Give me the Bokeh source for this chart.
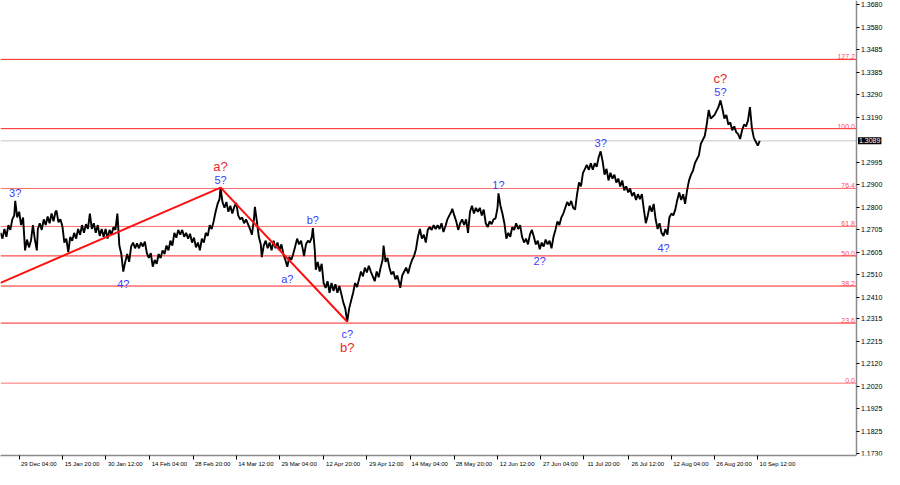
from bokeh.plotting import figure
from bokeh.models import Range1d, FixedTicker, NumeralTickFormatter, ColumnDataSource
from bokeh.embed import file_html
from bokeh.resources import INLINE
from bokeh.core.properties import value

# ---- price path (chart column position, price) ----
bar_pos = [
    0, 2, 4, 6, 8, 10, 12, 14, 15, 17, 19, 21, 23, 25, 27, 29, 31, 33, 35, 37, 38, 40, 42, 44, 46, 48, 50,
    52, 54, 56, 57, 59, 61, 63, 65, 67, 69, 71, 73, 75, 77, 79, 81, 83, 85, 87, 89, 91, 93, 95, 97, 99,
    101, 103, 105, 107, 109, 111, 113, 115, 117, 119, 121, 123, 125, 127, 129, 131, 133, 135, 137, 139,
    141, 143, 145, 147, 149, 151, 153, 155, 157, 159, 161, 163, 165, 167, 169, 171, 173, 175, 177, 179,
    181, 183, 185, 187, 189, 191, 193, 195, 197, 199,
    201, 203, 205, 207, 209, 211, 213, 215, 217, 219, 221, 223, 224, 226, 228, 230, 232, 234, 236, 238,
    240, 242, 244, 246, 248, 250, 252, 254, 256, 258, 259, 261, 263, 265, 266, 268, 270, 272, 274, 276,
    278, 280, 282, 284, 286, 288, 290, 292, 294, 296, 298, 300, 302, 304, 306, 308, 309, 311, 313, 315,
    317, 318, 320, 321, 323, 325, 327, 329, 331, 333, 335, 337, 339, 341, 343, 345, 347, 349, 351, 353,
    355, 357, 359, 361, 363, 365, 367, 369, 371, 373, 375, 377, 379, 381, 383, 385, 387, 389, 390, 392,
    394, 396, 398,
    400, 402, 404, 406, 407, 409, 411, 413, 415, 417, 419, 421, 423, 425, 427, 429, 431, 433, 435, 437,
    439, 441, 443, 445, 447, 449, 451, 453, 455, 457, 459, 460, 462, 464, 466, 468, 470, 472, 474, 476,
    478, 480, 482, 484, 486, 488, 490, 492, 494, 496, 498, 500, 502, 504, 506, 507, 509, 511, 513, 515,
    517, 519, 521, 523, 525, 527, 529, 531, 533, 535, 537, 539, 541, 543, 545, 547, 549, 551, 553, 555,
    557, 559, 561, 563, 565, 567, 569, 571, 573, 575, 577, 579, 581, 583, 585, 587, 589, 591, 593, 595,
    597, 599,
    601, 603, 605, 607, 609, 611, 613, 615, 617, 619, 621, 623, 625, 627, 629, 631, 633, 635, 637, 639,
    641, 643, 645, 647, 649, 651, 653, 655, 657, 659, 661, 663, 665, 667, 669, 671, 673, 675, 677, 679,
    681, 683, 685, 687, 689, 691, 693, 695, 697, 699, 701, 703, 705, 707, 709, 711, 713, 715, 717, 719,
    721, 723, 725, 727, 729, 731, 733, 735, 737, 739, 741, 743, 745, 747, 749, 751, 753, 755, 757, 759,
    761, 763, 765, 767, 769, 771, 773,
]
price = [
    1.2689, 1.2664, 1.2706, 1.2672, 1.2723, 1.2702, 1.2748, 1.2765, 1.2828, 1.2756, 1.2781, 1.2723, 1.2756,
    1.2613, 1.2660, 1.2626, 1.2655, 1.2723, 1.2660, 1.2613, 1.2706, 1.2731, 1.2702, 1.2748, 1.2723, 1.2760,
    1.2731, 1.2773, 1.2739, 1.2781, 1.2786, 1.2735, 1.2748, 1.2718, 1.2647, 1.2664, 1.2605, 1.2672, 1.2655,
    1.2689, 1.2664, 1.2706, 1.2681, 1.2723, 1.2689, 1.2727, 1.2706, 1.2773, 1.2706, 1.2731, 1.2689, 1.2723,
    1.2676, 1.2706, 1.2672, 1.2706, 1.2664, 1.2702, 1.2681, 1.2714, 1.2702, 1.2773, 1.2634, 1.2597, 1.2521,
    1.2563, 1.2597, 1.2563, 1.2630, 1.2647, 1.2622, 1.2643, 1.2622, 1.2647, 1.2630, 1.2651, 1.2601, 1.2580,
    1.2601, 1.2542, 1.2571, 1.2555, 1.2597, 1.2580, 1.2613, 1.2597, 1.2634, 1.2613, 1.2655, 1.2634, 1.2689,
    1.2668, 1.2702, 1.2681, 1.2702, 1.2672, 1.2689, 1.2664, 1.2685, 1.2647, 1.2668, 1.2626,
    1.2647, 1.2613, 1.2664, 1.2647, 1.2689, 1.2676, 1.2723, 1.2706, 1.2739, 1.2781, 1.2815, 1.2836, 1.2886,
    1.2823, 1.2798, 1.2823, 1.2781, 1.2807, 1.2773, 1.2802, 1.2819, 1.2765, 1.2748, 1.2756, 1.2731, 1.2748,
    1.2727, 1.2706, 1.2681, 1.2748, 1.2802, 1.2739, 1.2672, 1.2639, 1.2584, 1.2634, 1.2655, 1.2622, 1.2647,
    1.2613, 1.2655, 1.2622, 1.2647, 1.2613, 1.2639, 1.2597, 1.2571, 1.2542, 1.2584, 1.2571, 1.2597, 1.2630,
    1.2664, 1.2639, 1.2655, 1.2613, 1.2588, 1.2639, 1.2655, 1.2647, 1.2672, 1.2710, 1.2613, 1.2529, 1.2563,
    1.2521, 1.2555, 1.2471, 1.2450, 1.2479, 1.2429, 1.2471, 1.2437, 1.2466, 1.2429, 1.2458, 1.2424, 1.2387,
    1.2361, 1.2303, 1.2361, 1.2395, 1.2429, 1.2471, 1.2454, 1.2487, 1.2521, 1.2500, 1.2538, 1.2517, 1.2546,
    1.2521, 1.2500, 1.2479, 1.2521, 1.2496, 1.2538, 1.2571, 1.2634, 1.2563, 1.2580, 1.2538, 1.2508,
    1.2521, 1.2487, 1.2504, 1.2471, 1.2450, 1.2504, 1.2521, 1.2538, 1.2513, 1.2546, 1.2571, 1.2588, 1.2618,
    1.2672, 1.2706, 1.2664, 1.2681, 1.2647, 1.2702, 1.2714, 1.2702, 1.2723, 1.2706, 1.2723, 1.2706, 1.2731,
    1.2693, 1.2718, 1.2748, 1.2765, 1.2781, 1.2794, 1.2765, 1.2739, 1.2702, 1.2731, 1.2748, 1.2723, 1.2748,
    1.2689, 1.2781, 1.2807, 1.2773, 1.2798, 1.2781, 1.2798, 1.2765, 1.2790, 1.2731, 1.2714, 1.2739, 1.2727,
    1.2748, 1.2752, 1.2798, 1.2861, 1.2807, 1.2773, 1.2731, 1.2664, 1.2689, 1.2672, 1.2714, 1.2702, 1.2731,
    1.2706, 1.2723, 1.2672, 1.2647, 1.2664, 1.2639, 1.2681, 1.2702, 1.2672, 1.2639, 1.2655, 1.2618, 1.2647,
    1.2630, 1.2660, 1.2639, 1.2655, 1.2622, 1.2672, 1.2702, 1.2739, 1.2723, 1.2756, 1.2773, 1.2798, 1.2823,
    1.2807, 1.2828, 1.2798, 1.2790, 1.2857, 1.2908, 1.2891, 1.2950, 1.2967, 1.2984, 1.2963,
    1.2992, 1.2963, 1.2992, 1.2976, 1.3018, 1.3043, 1.3001, 1.2942, 1.2967, 1.2917, 1.2950, 1.2925, 1.2942,
    1.2908, 1.2925, 1.2891, 1.2917, 1.2874, 1.2891, 1.2865, 1.2882, 1.2849, 1.2865, 1.2832, 1.2857, 1.2836,
    1.2857, 1.2790, 1.2731, 1.2765, 1.2807, 1.2781, 1.2815, 1.2748, 1.2706, 1.2731, 1.2689, 1.2676, 1.2706,
    1.2681, 1.2756, 1.2773, 1.2765, 1.2790, 1.2832, 1.2865, 1.2832, 1.2857, 1.2815, 1.2874, 1.2917, 1.2942,
    1.2959, 1.2992, 1.3009, 1.3026, 1.3076, 1.3093, 1.3110, 1.3160, 1.3223, 1.3186, 1.3194, 1.3202, 1.3219,
    1.3236, 1.3265, 1.3228, 1.3186, 1.3202, 1.3160, 1.3169, 1.3135, 1.3152, 1.3127, 1.3118, 1.3097, 1.3135,
    1.3160, 1.3152, 1.3177, 1.3236, 1.3144, 1.3102, 1.3085, 1.3068, 1.3089,
]

# ---- axes ----
y_ticks = [1.1730, 1.1825, 1.1925, 1.2020, 1.2120, 1.2215, 1.2315, 1.2410, 1.2510, 1.2605,
           1.2705, 1.2800, 1.2900, 1.2995, 1.3190, 1.3290, 1.3385, 1.3485, 1.3580, 1.3680]
x_tick_pos = [19, 63, 107, 152, 196, 240, 284, 329, 373, 417, 462, 506, 550, 594, 639, 683, 727, 771]
x_tick_labels = ["29 Dec 04:00", "15 Jan 20:00", "30 Jan 12:00", "14 Feb 04:00", "28 Feb 20:00",
                 "14 Mar 12:00", "29 Mar 04:00", "12 Apr 20:00", "29 Apr 12:00", "14 May 04:00",
                 "28 May 20:00", "12 Jun 12:00", "27 Jun 04:00", "11 Jul 20:00", "26 Jul 12:00",
                 "12 Aug 04:00", "26 Aug 20:00", "10 Sep 12:00"]

# ---- Fibonacci levels ----
fib_levels = ["0.0", "23.6", "38.2", "50.0", "61.8", "76.4", "100.0", "127.2"]
fib_prices = [1.2036, 1.2297, 1.2458, 1.2589, 1.2717, 1.2882, 1.3142, 1.3443]
current_price = 1.3089

# ---- wave count ----
wave_line_pos = [0, 224, 353]
wave_line_price = [1.2472, 1.2886, 1.2303]

blue_text = ["3?", "4?", "5?", "a?", "b?", "c?", "1?", "2?", "3?", "4?", "5?"]
blue_pos = [15, 125, 224, 292, 318, 353, 507, 549, 611, 675, 733]
blue_price = [1.2828, 1.2521, 1.2886, 1.2542, 1.2710, 1.2303, 1.2861, 1.2618, 1.3043, 1.2676, 1.3265]
blue_side = ["up", "down", "up", "down", "up", "down", "up", "down", "up", "down", "up"]

red_text = ["a?", "b?", "c?"]
red_pos = [224, 353, 733]
red_price = [1.2886, 1.2303, 1.3265]
red_side = ["up", "down", "up"]

FONT = "Liberation Sans"
AXIS_X = 872          # chart column where the price scale sits
X_END = 900           # right edge of the drawing area (room for the price scale)

p = figure(width=884, height=469, output_backend="svg", toolbar_location=None,
           x_range=Range1d(0, X_END), y_range=Range1d(1.17216, 1.36989),
           y_axis_location="right", min_border=0, outline_line_color=None,
           background_fill_color="white", border_fill_color="white")
p.grid.visible = False

# Fibonacci lines (stop at the price scale)
fib_colors = ["#FF7070", "#FF2020", "#FF2020", "#FF2020", "#FF7070", "#FF7070", "#FF2020", "#FF2020"]
n = len(fib_prices)
p.segment(x0=[0] * n, x1=[AXIS_X] * n, y0=fib_prices, y1=fib_prices, line_color=fib_colors, line_width=1)
p.segment(x0=[0], x1=[AXIS_X], y0=[current_price], y1=[current_price], line_color="#C8C8C8", line_width=1)

# price path
p.line(bar_pos, price, line_color="black", line_width=1.9)

# wave lines
p.line(wave_line_pos, wave_line_price, line_color="#FF1010", line_width=2)

# Fibonacci level texts
fib_src = ColumnDataSource(dict(x=[AXIS_X] * n, y=fib_prices, t=fib_levels))
p.text(x="x", y="y", text="t", source=fib_src, text_font=value(FONT), text_font_size="7px",
       text_color="#FF5050", text_align="right", text_baseline="bottom", x_offset=-2, y_offset=0)

def wave_labels(texts, pos, prices, sides, color, size, up_off, down_off):
    src = ColumnDataSource(dict(
        x=pos, y=prices, t=texts,
        base=["bottom" if s == "up" else "top" for s in sides],
        dy=[up_off if s == "up" else down_off for s in sides]))
    p.text(x="x", y="y", text="t", source=src, text_font=value(FONT), text_font_size=size,
           text_color=color, text_align="center", text_baseline="base", y_offset="dy")

wave_labels(blue_text, blue_pos, blue_price, blue_side, "#3C3CFF", "11px", -2, 6)
wave_labels(red_text, red_pos, red_price, red_side, "#E52A2A", "13px", -14, 18)

# current price tag on the price scale
tag_kw = dict(x=[AXIS_X], y=[current_price], text=[f"{current_price:.4f}"], x_offset=1,
              text_font=value(FONT), text_font_size="7px", text_color="white",
              text_baseline="middle", text_align="left")
try:
    p.text(background_fill_color="black", padding=1, **tag_kw)
except Exception:
    p.rect(x=[AXIS_X + 13], y=[current_price], width=26, height=9, height_units="screen",
           width_units="screen", fill_color="black", line_color=None)
    p.text(**tag_kw)

# y axis (right, pinned to the price-scale column)
ya = p.yaxis[0]
ya.fixed_location = AXIS_X
ya.ticker = FixedTicker(ticks=y_ticks)
ya.formatter = NumeralTickFormatter(format="0.0000")
ya.major_tick_in = 0
ya.major_tick_out = 3
ya.minor_tick_line_color = None
ya.major_label_standoff = 1
ya.axis_line_color = "#8C8C8C"
ya.axis_line_width = 1.5
ya.major_label_text_font = FONT
ya.major_label_text_font_size = "7px"
ya.major_label_text_color = "black"

# x axis
xa = p.xaxis[0]
xa.bounds = (0, AXIS_X)
label_centers = [t + 20 for t in x_tick_pos]
xa.ticker = FixedTicker(ticks=label_centers, minor_ticks=x_tick_pos)
xa.major_label_overrides = {c: s for c, s in zip(label_centers, x_tick_labels)}
xa.major_tick_line_color = None
xa.major_tick_in = 0
xa.major_tick_out = 2
xa.minor_tick_in = 0
xa.minor_tick_out = 4
xa.minor_tick_line_color = "black"
xa.major_label_standoff = 1
xa.axis_line_color = "#8C8C8C"
xa.axis_line_width = 1.5
xa.major_label_text_font = FONT
xa.major_label_text_font_size = "6px"
xa.major_label_text_color = "black"

open("out.html", "w").write(file_html(p, INLINE))
